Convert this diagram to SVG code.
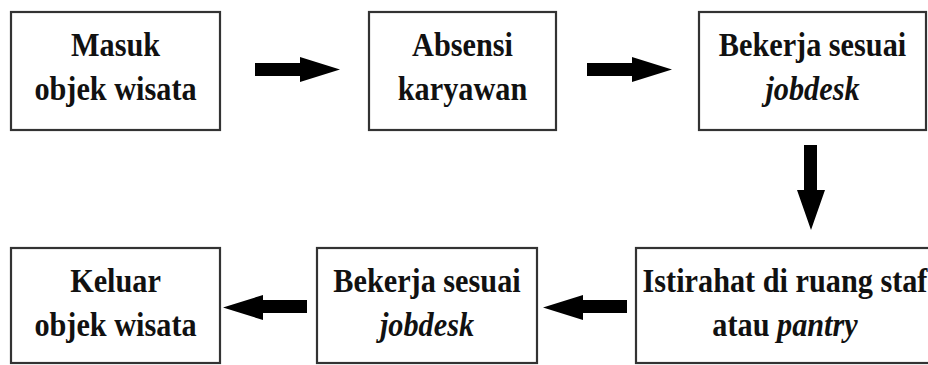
<svg xmlns="http://www.w3.org/2000/svg" width="928" height="365" viewBox="0 0 928 365">
  <style>
    .box { fill: #ffffff; stroke: #333333; stroke-width: 2.2; }
    .t { font-family: "Liberation Serif", "Times New Roman", serif; font-size: 34px; font-weight: bold; fill: #111111; text-anchor: middle; }
    .it { font-style: italic; font-weight: bold; }
    .arr { fill: #000000; }
  </style>
  <rect width="928" height="365" fill="#ffffff"/>
  <g id="connectors">
    <polygon class="arr" points="255,63 300,63 300,57 340,69.5 300,82 300,76 255,76"/>
    <polygon class="arr" points="587,63 632,63 632,57 672,69.5 632,82 632,76 587,76"/>
    <polygon class="arr" points="804,145 817,145 817,190 825,190 811,230 797,190 804,190"/>
    <polygon class="arr" points="627,300 627,313 583,313 583,320 543,307.5 583,295 583,300"/>
    <polygon class="arr" points="307,300 307,313 263,313 263,320 223,307.5 263,295 263,300"/>
  </g>
  <g id="node-masuk">
    <rect class="box" x="11" y="12" width="209" height="118"/>
    <text class="t" transform="translate(115.5,56) scale(0.89,1)">Masuk</text>
    <text class="t" transform="translate(115.5,100) scale(0.89,1)">objek wisata</text>
  </g>
  <g id="node-absensi">
    <rect class="box" x="369" y="12" width="187" height="118"/>
    <text class="t" transform="translate(462.5,56) scale(0.89,1)">Absensi</text>
    <text class="t" transform="translate(462.5,100) scale(0.89,1)">karyawan</text>
  </g>
  <g id="node-bekerja1">
    <rect class="box" x="699" y="12" width="227" height="118"/>
    <text class="t" transform="translate(812.5,56) scale(0.89,1)">Bekerja sesuai</text>
    <text class="t it" transform="translate(812.5,100) scale(0.89,1)">jobdesk</text>
  </g>
  <g id="node-istirahat">
    <rect class="box" x="636" y="248" width="300" height="115"/>
    <text class="t" transform="translate(785,292) scale(0.89,1)">Istirahat di ruang staf</text>
    <text class="t" transform="translate(785,336) scale(0.89,1)">atau <tspan class="it">pantry</tspan></text>
  </g>
  <g id="node-bekerja2">
    <rect class="box" x="317" y="248" width="220" height="115"/>
    <text class="t" transform="translate(427,292) scale(0.89,1)">Bekerja sesuai</text>
    <text class="t it" transform="translate(427,336) scale(0.89,1)">jobdesk</text>
  </g>
  <g id="node-keluar">
    <rect class="box" x="11" y="248" width="209" height="115"/>
    <text class="t" transform="translate(115.5,292) scale(0.89,1)">Keluar</text>
    <text class="t" transform="translate(115.5,336) scale(0.89,1)">objek wisata</text>
  </g>
</svg>
